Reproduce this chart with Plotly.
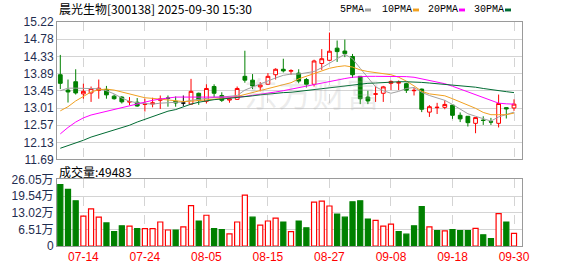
import plotly.graph_objects as go

# ---------------- data ----------------
dates = [
    "2025-07-09", "2025-07-10", "2025-07-11", "2025-07-14", "2025-07-15", "2025-07-16", "2025-07-17", "2025-07-18",
    "2025-07-21", "2025-07-22", "2025-07-23", "2025-07-24", "2025-07-25", "2025-07-28", "2025-07-29", "2025-07-30",
    "2025-07-31", "2025-08-01", "2025-08-04", "2025-08-05", "2025-08-06", "2025-08-07", "2025-08-08", "2025-08-11",
    "2025-08-12", "2025-08-13", "2025-08-14", "2025-08-15", "2025-08-18", "2025-08-19", "2025-08-20", "2025-08-21",
    "2025-08-22", "2025-08-25", "2025-08-26", "2025-08-27", "2025-08-28", "2025-08-29", "2025-09-01", "2025-09-02",
    "2025-09-03", "2025-09-04", "2025-09-05", "2025-09-08", "2025-09-09", "2025-09-10", "2025-09-11", "2025-09-12",
    "2025-09-15", "2025-09-16", "2025-09-17", "2025-09-18", "2025-09-19", "2025-09-22", "2025-09-23", "2025-09-24",
    "2025-09-25", "2025-09-26", "2025-09-29", "2025-09-30",
]

opens = [13.866, 13.472, 13.686, 13.374, 13.398, 13.464, 13.489, 13.316, 13.292, 13.165,
         13.160, 13.105, 13.115, 13.209, 13.270, 13.185, 13.140, 13.111, 13.390, 13.185,
         13.563, 13.333, 13.215, 13.234, 13.825, 13.727, 13.554, 13.620, 13.866, 14.006,
         13.955, 13.907, 13.743, 13.620, 14.154, 14.236, 14.548, 14.474, 14.334, 13.825,
         13.292, 13.365, 13.390, 13.645, 13.650, 13.637, 13.455, 13.497, 12.906, 13.020,
         13.029, 13.086, 12.824, 12.799, 12.618, 12.700, 12.660, 12.618, 13.021, 13.012]
highs = [14.375, 13.743, 14.006, 13.636, 13.563, 13.743, 13.579, 13.357, 13.316, 13.292,
         13.267, 13.250, 13.275, 13.333, 13.333, 13.308, 13.333, 13.760, 13.407, 13.620,
         13.620, 13.415, 13.267, 13.563, 14.482, 13.883, 13.677, 13.907, 14.031, 14.277,
         14.006, 14.006, 13.784, 14.252, 14.523, 14.950, 14.745, 14.769, 14.400, 13.830,
         13.456, 13.579, 13.579, 13.719, 13.719, 13.661, 13.538, 13.510, 13.086, 13.144,
         13.209, 13.090, 12.898, 12.800, 12.770, 12.799, 12.758, 13.357, 13.030, 13.234]
lows = [13.497, 13.152, 13.357, 13.250, 13.168, 13.250, 13.250, 13.226, 13.127, 13.086,
        13.045, 12.922, 13.029, 12.988, 13.045, 13.045, 13.060, 13.100, 13.094, 13.127,
        13.292, 13.168, 13.147, 13.220, 13.661, 13.497, 13.439, 13.600, 13.743, 13.924,
        13.866, 13.645, 13.538, 13.563, 13.990, 14.220, 14.195, 14.318, 13.784, 13.111,
        13.111, 13.168, 13.168, 13.472, 13.472, 13.398, 13.333, 12.906, 12.783, 12.857,
        12.980, 12.733, 12.651, 12.536, 12.364, 12.577, 12.577, 12.512, 12.742, 12.939]
closes = [13.645, 13.423, 13.398, 13.439, 13.510, 13.520, 13.349, 13.250, 13.170, 13.175,
          13.062, 13.115, 13.144, 13.242, 13.260, 13.140, 13.140, 13.439, 13.209, 13.513,
          13.390, 13.209, 13.245, 13.513, 13.727, 13.579, 13.604, 13.825, 14.006, 13.965,
          13.975, 13.702, 13.620, 14.219, 14.277, 14.470, 14.460, 14.408, 13.866, 13.250,
          13.193, 13.374, 13.554, 13.694, 13.670, 13.470, 13.465, 12.980, 13.045, 13.030,
          13.103, 12.824, 12.733, 12.635, 12.766, 12.692, 12.651, 13.127, 12.988, 13.111]

# volume in 万
volumes = [24.05, 22.17, 17.66, 11.65, 14.53, 11.27, 9.02, 5.64, 7.89, 7.76,
           6.76, 6.76, 6.76, 9.39, 6.26, 6.26, 7.51, 15.78, 9.77, 12.02,
           6.76, 6.39, 4.76, 9.39, 19.91, 11.27, 8.14, 9.77, 10.90, 9.39,
           5.64, 9.77, 7.14, 17.16, 17.53, 15.65, 12.52, 11.27, 17.28, 17.66,
           10.52, 10.02, 7.76, 8.52, 5.64, 4.63, 7.89, 15.40, 7.51, 6.01,
           5.89, 6.39, 6.01, 6.01, 6.89, 4.38, 2.88, 12.65, 9.39, 4.9483]

ma5 = [13.456, 13.521, 13.521, 13.513, 13.497, 13.505, 13.456, 13.374, 13.267, 13.185,
       13.144, 13.127, 13.111, 13.136, 13.144, 13.144, 13.168, 13.209, 13.234, 13.267,
       13.283, 13.292, 13.308, 13.333, 13.472, 13.554, 13.636, 13.702, 13.784, 13.850,
       13.883, 13.883, 13.907, 13.948, 14.047, 14.154, 14.277, 14.392, 14.277, 14.031,
       13.784, 13.554, 13.456, 13.390, 13.439, 13.513, 13.538, 13.415, 13.333, 13.275,
       13.209, 13.103, 12.980, 12.865, 12.799, 12.733, 12.676, 12.783, 12.840, 12.906]
ma10 = [12.939, 13.045, 13.193, 13.316, 13.423, 13.480, 13.497, 13.472, 13.423, 13.357,
        13.308, 13.275, 13.259, 13.242, 13.218, 13.193, 13.177, 13.185, 13.201, 13.226,
        13.242, 13.259, 13.275, 13.308, 13.357, 13.407, 13.456, 13.505, 13.563, 13.620,
        13.661, 13.760, 13.825, 13.907, 13.973, 14.031, 14.072, 14.096, 14.063, 13.990,
        13.948, 13.924, 13.891, 13.866, 13.801, 13.702, 13.579, 13.440, 13.374, 13.341,
        13.325, 13.250, 13.168, 13.086, 13.004, 12.898, 12.840, 12.840, 12.840, 12.881]
ma20 = [12.347, 12.512, 12.651, 12.758, 12.832, 12.881, 12.930, 12.980, 13.029, 13.078,
        13.127, 13.168, 13.209, 13.242, 13.275, 13.292, 13.292, 13.292, 13.292, 13.290,
        13.285, 13.283, 13.283, 13.292, 13.308, 13.333, 13.357, 13.390, 13.423, 13.456,
        13.497, 13.530, 13.579, 13.620, 13.661, 13.702, 13.735, 13.768, 13.801, 13.817,
        13.825, 13.825, 13.825, 13.825, 13.825, 13.817, 13.801, 13.760, 13.719, 13.677,
        13.636, 13.571, 13.497, 13.415, 13.341, 13.267, 13.193, 13.136, 13.119, 13.111]
ma30 = [11.978, 12.044, 12.118, 12.183, 12.265, 12.323, 12.389, 12.438, 12.512, 12.569,
        12.651, 12.717, 12.799, 12.865, 12.930, 12.971, 13.045, 13.111, 13.160, 13.201,
        13.226, 13.242, 13.259, 13.275, 13.300, 13.324, 13.349, 13.374, 13.390, 13.407,
        13.415, 13.439, 13.464, 13.480, 13.505, 13.530, 13.563, 13.587, 13.612, 13.628,
        13.645, 13.653, 13.669, 13.677, 13.686, 13.686, 13.686, 13.669, 13.653, 13.636,
        13.628, 13.612, 13.587, 13.563, 13.546, 13.513, 13.480, 13.456, 13.431, 13.407]

price_ticks = [11.69, 12.13, 12.57, 13.01, 13.45, 13.89, 14.33, 14.78, 15.22]
vol_ticks = [0, 6.51, 13.02, 19.54, 26.05]
vol_tick_text = ["0", "6.51万", "13.02万", "19.54万", "26.05万"]
date_ticks = ["2025-07-14", "2025-07-24", "2025-08-05", "2025-08-15",
              "2025-08-27", "2025-09-08", "2025-09-18", "2025-09-30"]
stock_title = "晨光生物[300138] 2025-09-30 15:30"
vol_label = "成交量"
ma_names = ["5PMA", "10PMA", "20PMA", "30PMA"]

# ---------------- styling / layout ----------------
W, H = 578, 276
ML, MR, MT, MB = 57, 56, 22, 21
PW, PH = W - ML - MR, H - MT - MB
RED, GREEN = "#ff0000", "#008000"
MA_COLORS = ["#a0a0a0", "#f0a020", "#ff00ff", "#006b33"]
GRID = "#d4d4d4"
FRAME = "#9a9a9a"
LABEL_COLOR = "#1f2d50"
CJK = "Noto Sans CJK SC"


def px_x(px):
    return (px - ML) / PW


def px_y(py):
    return (H - MB - py) / PH


main_bottom = px_y(165)
vol_top = px_y(185.7)
x_range = [-0.43, 60.04]

fig = go.Figure()

# candlesticks (non-doji) + doji in black
idx_main = [i for i in range(len(dates)) if opens[i] != closes[i]]
idx_doji = [i for i in range(len(dates)) if opens[i] == closes[i]]

fig.add_trace(go.Candlestick(
    x=[dates[i] for i in idx_main],
    open=[opens[i] for i in idx_main], high=[highs[i] for i in idx_main],
    low=[lows[i] for i in idx_main], close=[closes[i] for i in idx_main],
    increasing=dict(line=dict(color=RED, width=1), fillcolor="#ffffff"),
    decreasing=dict(line=dict(color=GREEN, width=1), fillcolor=GREEN),
    xaxis="x", yaxis="y", showlegend=False, hoverinfo="skip"))
if idx_doji:
    fig.add_trace(go.Candlestick(
        x=[dates[i] for i in idx_doji],
        open=[opens[i] for i in idx_doji], high=[highs[i] for i in idx_doji],
        low=[lows[i] for i in idx_doji], close=[closes[i] for i in idx_doji],
        increasing=dict(line=dict(color="#000000", width=1), fillcolor="#000000"),
        decreasing=dict(line=dict(color="#000000", width=1), fillcolor="#000000"),
        xaxis="x", yaxis="y", showlegend=False, hoverinfo="skip"))

for name, vals, col in zip(ma_names, [ma5, ma10, ma20, ma30], MA_COLORS):
    fig.add_trace(go.Scatter(x=dates, y=vals, mode="lines", name=name,
                             line=dict(color=col, width=1),
                             xaxis="x", yaxis="y", showlegend=False, hoverinfo="skip"))

# volume
vol_up = []
for i in range(len(dates)):
    ref = closes[i - 1] if i > 0 else opens[i]
    vol_up.append(closes[i] >= ref)
fig.add_trace(go.Bar(
    x=dates, y=volumes, width=0.66,
    marker=dict(color=["#ffffff" if u else GREEN for u in vol_up],
                line=dict(color=[RED if u else GREEN for u in vol_up], width=1.2)),
    xaxis="x2", yaxis="y2", showlegend=False, hoverinfo="skip"))

axis_common = dict(type="category", categoryorder="array", categoryarray=dates,
                   range=x_range, tickvals=date_ticks, showgrid=True,
                   gridcolor=GRID, griddash="dash", gridwidth=1,
                   showline=True, linecolor=FRAME, mirror=True, zeroline=False,
                   fixedrange=True)

fig.update_layout(
    width=W, height=H,
    margin=dict(l=ML, r=MR, t=MT, b=MB, pad=0),
    paper_bgcolor="#ffffff", plot_bgcolor="#ffffff",
    showlegend=False,
    xaxis=dict(axis_common, domain=[0, 1], anchor="y", showticklabels=False,
               rangeslider=dict(visible=False)),
    yaxis=dict(domain=[main_bottom, 1], range=[price_ticks[0], price_ticks[-1]],
               tickvals=price_ticks, ticktext=[f"{v:.2f}" for v in price_ticks],
               showgrid=True, gridcolor=GRID, gridwidth=1, zeroline=False,
               showline=True, linecolor=FRAME, mirror=True, ticks="",
               tickfont=dict(family="Liberation Sans, Arial", size=12, color=LABEL_COLOR),
               anchor="x"),
    xaxis2=dict(axis_common, domain=[0, 1], anchor="y2",
                ticktext=[d[5:] for d in date_ticks], ticks="",
                tickfont=dict(family="Liberation Sans, Arial", size=12, color=RED),
                rangeslider=dict(visible=False)),
    yaxis2=dict(domain=[0, vol_top], range=[vol_ticks[0], vol_ticks[-1]],
                tickvals=vol_ticks, ticktext=vol_tick_text,
                showgrid=True, gridcolor=GRID, gridwidth=1, zeroline=False,
                showline=True, linecolor=FRAME, mirror=True, ticks="",
                tickfont=dict(family="Liberation Sans, " + CJK, size=12, color=LABEL_COLOR),
                anchor="x2"),
)

annotations = [
    dict(text=stock_title, x=px_x(57), y=px_y(8), xref="paper", yref="paper",
         xanchor="left", yanchor="middle", showarrow=False,
         font=dict(family=CJK, size=12, color="#000000")),
    dict(text=f"{vol_label}:{int(round(volumes[-1] * 10000))}", x=px_x(57), y=px_y(178),
         xref="paper", yref="paper", xanchor="left", yanchor="middle", showarrow=False,
         font=dict(family=CJK, size=12, color="#000000")),
    dict(text="东方财富", x=px_x(312), y=px_y(95), xref="paper", yref="paper",
         xanchor="center", yanchor="middle", showarrow=False,
         font=dict(family=CJK, size=34, color="rgba(170,170,170,0.22)")),
]
shapes = []
legend_text_x = [338, 380, 426, 472]
legend_mark_x = [365, 413, 459, 505]
for name, col, tx, mx in zip(ma_names, MA_COLORS, legend_text_x, legend_mark_x):
    annotations.append(dict(text=name, x=px_x(tx), y=px_y(9), xref="paper", yref="paper",
                            xanchor="left", yanchor="middle", showarrow=False,
                            font=dict(family="Liberation Mono, DejaVu Sans Mono", size=10,
                                      color="#000000")))
    shapes.append(dict(type="rect", xref="paper", yref="paper",
                       x0=px_x(mx), x1=px_x(mx + 6), y0=px_y(11), y1=px_y(8),
                       fillcolor=col, line=dict(width=0)))

fig.update_layout(annotations=annotations, shapes=shapes)

fig.write_html("out.html")
